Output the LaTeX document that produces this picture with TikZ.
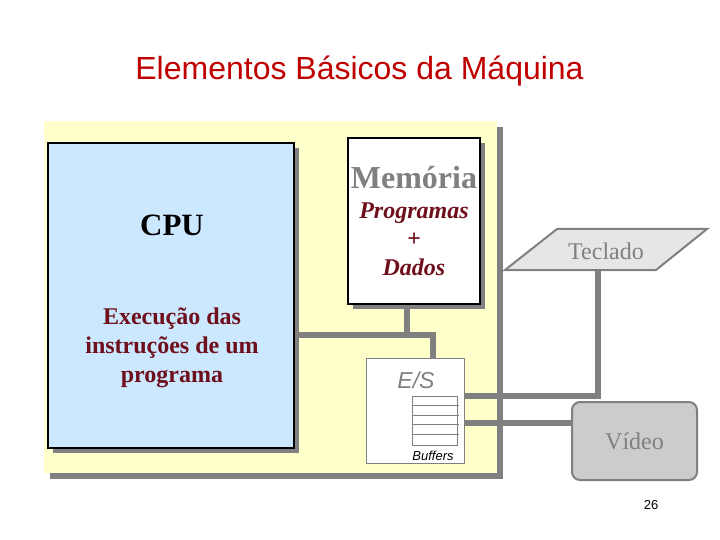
\documentclass[tikz,border=0pt]{standalone}
\usepackage{fontspec}
\setmainfont{Liberation Serif}
\setsansfont{Liberation Sans}
\usetikzlibrary{shadows}
\definecolor{panelyellow}{RGB}{255,255,204}
\definecolor{cpublue}{RGB}{204,232,255}
\definecolor{darkred}{RGB}{110,15,27}
\definecolor{titlered}{RGB}{192,0,0}
\definecolor{busgray}{RGB}{128,128,128}
\definecolor{kbgray}{RGB}{230,230,230}
\definecolor{videogray}{RGB}{204,204,204}
\begin{document}
\begin{tikzpicture}[x=1pt,y=-1pt,
  boxshadow/.style={general shadow={shadow xshift=5pt,shadow yshift=-5pt,fill=busgray}},
  box/.style={draw,rectangle,line width=1.6pt,inner sep=0pt,boxshadow},
  bus/.style={draw=busgray,line width=5.5pt,line join=miter}]
\useasboundingbox (0,0) rectangle (720,540);
% title
\node[font=\sffamily\fontsize{32}{36}\selectfont,text=titlered] (title) at (359.5,71) {Elementos Básicos da Máquina};
% background panel
\node[rectangle,fill=panelyellow,minimum width=453pt,minimum height=352pt,
  general shadow={shadow xshift=6pt,shadow yshift=-6pt,fill=busgray}] (panel) at (270.5,297) {};
% cpu
\node[box,fill=cpublue,minimum width=246pt,minimum height=305pt] (cpu) at (171,295.5) {};
\node[font=\bfseries\fontsize{31}{36}\selectfont] (cpuname) at (172,225) {CPU};
\node[align=center,text=darkred,font=\bfseries\fontsize{24}{29}\selectfont] (cputask) at (172,348) {Execução das\\instruções de um\\programa};
% memoria
\node[box,fill=white,minimum width=132pt,minimum height=166pt] (mem) at (414,221) {};
\node[text=busgray,font=\bfseries\fontsize{32}{36}\selectfont] (memname) at (414,178) {Memória};
\node[align=center,text=darkred,font=\bfseries\itshape\fontsize{24}{28.5}\selectfont] (memdata) at (414,239) {Programas\\+\\Dados};
% E/S
\node[draw=busgray,line width=1pt,fill=white,minimum width=98pt,minimum height=105pt] (es) at (415,410.5) {};
\node[text=busgray,font=\sffamily\itshape\fontsize{23}{27}\selectfont] (esname) at (416,380) {E/S};
\node[draw=busgray,line width=1pt,minimum width=45pt,minimum height=49pt,inner sep=0pt] (buf) at (434.5,420.5) {};
\foreach \k in {1,...,4}
  \draw[busgray,line width=1pt] ([yshift=-\k*9.8pt]buf.north west) -- ([xshift=1.5pt,yshift=-\k*9.8pt]buf.north east);
\node[font=\sffamily\itshape\fontsize{13}{15}\selectfont] (bufname) at (433,456) {Buffers};
% teclado
\filldraw[fill=kbgray,draw=busgray,line width=2pt] (505,270) -- (557,229) -- (707,229) -- (656,270) -- cycle;
\node[text=busgray,font=\fontsize{24}{28}\selectfont] (teclado) at (606,251) {Teclado};
\coordinate (kbfoot) at (598,270);
% video
\node[draw=busgray,line width=2pt,fill=videogray,rounded corners=8pt,minimum width=125pt,minimum height=78pt,
  text=busgray,font=\fontsize{24}{28}\selectfont] (video) at (634.5,441) {Vídeo};
% barramentos
\coordinate (cpubus) at (433,335);
\coordinate (membus) at (407,335);
\coordinate (kbbus) at (598,396);
\coordinate (vidbus) at (0,423);
\path[bus] (cpu.east |- cpubus) -- (cpubus) -- (cpubus |- es.north);
\path[bus] (membus |- mem.south) -- (membus);
\path[bus] (es.east |- kbbus) -- (kbbus) -- (kbfoot);
\path[bus] (es.east |- vidbus) -- (video.west |- vidbus);
% pagina
\node[font=\sffamily\fontsize{13}{15}\selectfont] (pagenum) at (651,505) {26};
\end{tikzpicture}
\end{document}
